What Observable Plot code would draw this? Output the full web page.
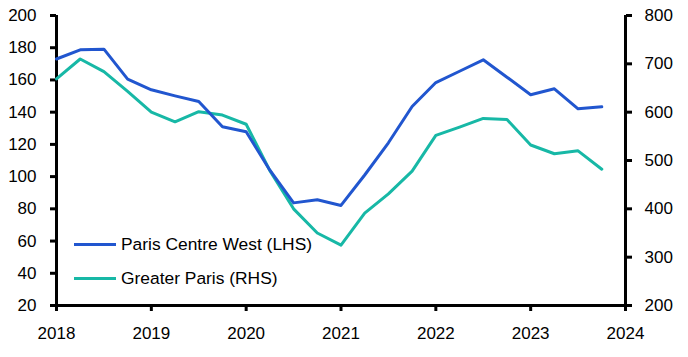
<!DOCTYPE html>
<html>
<head>
<meta charset="utf-8">
<script src="https://cdn.jsdelivr.net/npm/d3@7"></script>
<script src="https://cdn.jsdelivr.net/npm/@observablehq/plot@0.6"></script>
<style>
  html, body { margin: 0; padding: 0; background: #fff; }
  #wrap { position: relative; width: 688px; height: 357px; font-family: "Liberation Sans", Arial, sans-serif; }
  .legend { position: absolute; left: 74px; top: 227px; font-size: 17.4px; color: #000; }
  .legend .item { display: flex; align-items: center; height: 34px; }
  .legend .sw { width: 42px; height: 3px; margin-right: 5px; }
</style>
</head>
<body>
<div id="wrap"></div>
<script>
// Quarterly observations (decimal year)
const quarters = [2018.0, 2018.25, 2018.5, 2018.75, 2019.0, 2019.25, 2019.5, 2019.75,
                  2020.0, 2020.25, 2020.5, 2020.75, 2021.0, 2021.25, 2021.5, 2021.75,
                  2022.0, 2022.25, 2022.5, 2022.75, 2023.0, 2023.25, 2023.5, 2023.75];
const parisCentreWest = [173, 178.7, 179.1, 160.5, 153.9, 150.1, 146.6, 130.9,
                         127.8, 104, 83.7, 85.6, 82.1, 101, 121, 143.5,
                         158.4, 165.4, 172.5, 161.7, 150.8, 154.5, 142.1, 143.3];
const greaterParis = [669, 710, 684, 643, 600, 580, 601, 594,
                      575, 479, 400, 350, 325, 391, 431, 478,
                      552, 569, 587, 585, 532, 514, 520, 482];
const seriesNames = ["Paris Centre West (LHS)", "Greater Paris (RHS)"];
const seriesColors = ["#2156cf", "#17b8a6"];
const leftTicks = [20, 40, 60, 80, 100, 120, 140, 160, 180, 200];
const rightTicks = [200, 300, 400, 500, 600, 700, 800];
const xTicks = [2018, 2019, 2020, 2021, 2022, 2023, 2024];

const leftDomain = [20, 200];
const rightDomain = [200, 800];
const toLeft = v => leftDomain[0] + (v - rightDomain[0]) * (leftDomain[1] - leftDomain[0]) / (rightDomain[1] - rightDomain[0]);
const toRight = v => rightDomain[0] + (v - leftDomain[0]) * (rightDomain[1] - rightDomain[0]) / (leftDomain[1] - leftDomain[0]);

const rows = quarters.map((q, i) => ({x: q, pcw: parisCentreWest[i], gp: toLeft(greaterParis[i])}));

const chart = Plot.plot({
  width: 688,
  height: 357,
  marginLeft: 56,
  marginRight: 63,
  marginTop: 15,
  marginBottom: 52,
  style: {fontFamily: "'Liberation Sans', Arial, sans-serif", fontSize: "17px", color: "#000", background: "#fff"},
  x: {domain: [2018, 2024]},
  y: {domain: leftDomain},
  marks: [
    Plot.axisY({anchor: "left", ticks: leftTicks, tickSize: 6, tickPadding: 14, tickFormat: d => String(d), label: null, strokeWidth: 3, fontSize: 17}),
    Plot.axisY({anchor: "right", ticks: rightTicks.map(toLeft), tickSize: 6, tickPadding: 13, tickFormat: d => String(Math.round(toRight(d))), label: null, strokeWidth: 3, fontSize: 17}),
    Plot.axisX({ticks: xTicks, tickSize: 6, tickPadding: 15, tickFormat: d => String(d), label: null, strokeWidth: 3, fontSize: 17}),
    Plot.ruleX([2018, 2024], {stroke: "#000", strokeWidth: 3}),
    Plot.ruleY([leftDomain[0]], {stroke: "#000", strokeWidth: 3}),
    Plot.line(rows, {x: "x", y: "gp", stroke: seriesColors[1], strokeWidth: 3}),
    Plot.line(rows, {x: "x", y: "pcw", stroke: seriesColors[0], strokeWidth: 3})
  ]
});

const wrap = document.getElementById("wrap");
wrap.appendChild(chart);
const legend = document.createElement("div");
legend.className = "legend";
seriesNames.forEach((name, i) => {
  const item = document.createElement("div");
  item.className = "item";
  const sw = document.createElement("span");
  sw.className = "sw";
  sw.style.background = seriesColors[i];
  const label = document.createElement("span");
  label.textContent = name;
  item.appendChild(sw);
  item.appendChild(label);
  legend.appendChild(item);
});
wrap.appendChild(legend);
</script>
</body>
</html>
